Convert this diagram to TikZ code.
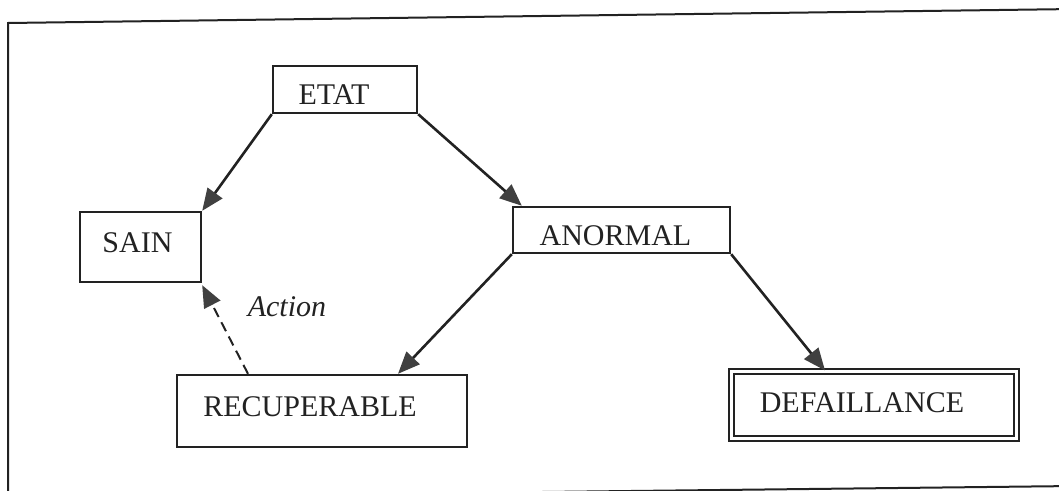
\documentclass[tikz,border=0pt]{standalone}
\usepackage{fontspec}
\setmainfont{Liberation Serif}
\usetikzlibrary{arrows.meta}
\definecolor{ink}{HTML}{222222}
\definecolor{tipgray}{HTML}{404040}
\tikzset{
  statebox/.style={draw=ink, line width=2.4pt, fill=white, inner sep=0pt,
    text=ink, font=\fontsize{30}{36}\selectfont, text depth=8pt},
  lowtext/.style={text height=30pt, text depth=0pt},
  failbox/.style={statebox, double=white, double distance=2.2pt, line width=2.2pt, text depth=4pt},
  flow/.style={draw=ink, line width=2.6pt,
    -{Triangle[length=22pt,width=18pt,fill=tipgray,color=tipgray]}},
  recovery/.style={flow, line width=2pt, dash pattern=on 10pt off 6pt}
}
\begin{document}
\begin{tikzpicture}[x=1pt,y=-1pt]
  \useasboundingbox (0,0) rectangle (1059,490);
  \clip (0,0) rectangle (1059,490);
  % outer frame
  \draw[ink, line width=2pt] (8,23) -- (1075,9) -- (1075,486) -- (8,498) -- cycle;

  % states
  \node[statebox, lowtext, minimum width=144pt, minimum height=47pt] (etat) at (345,89.5) {ETAT\kern22pt};
  \node[statebox, minimum width=121pt, minimum height=70pt] (sain) at (140.5,247) {SAIN\kern6pt};
  \node[statebox, lowtext, minimum width=217pt, minimum height=46pt] (anormal) at (621.5,230) {ANORMAL\kern12pt};
  \node[statebox, minimum width=290pt, minimum height=72pt] (recup) at (322,411) {RECUPERABLE\kern24pt};
  \node[failbox, minimum width=285pt, minimum height=67pt] (defail) at (874,405) {DEFAILLANCE\kern24pt};

  % transitions
  \draw[flow] (etat.south west) -- (sain.north east);
  \draw[flow] (etat.south east) -- ([xshift=10pt]anormal.north west);
  \draw[flow] (anormal.south west) -- ([xshift=76pt]recup.north);
  \draw[flow] (anormal.south east) -- ([xshift=-49pt]defail.north);
  \draw[recovery] ([xshift=-74pt]recup.north) -- ([yshift=-2pt]sain.south east);

  \node[text=ink, font=\fontsize{30}{36}\selectfont\itshape, inner sep=0pt] (action) at (287,307) {Action};
\end{tikzpicture}
\end{document}
